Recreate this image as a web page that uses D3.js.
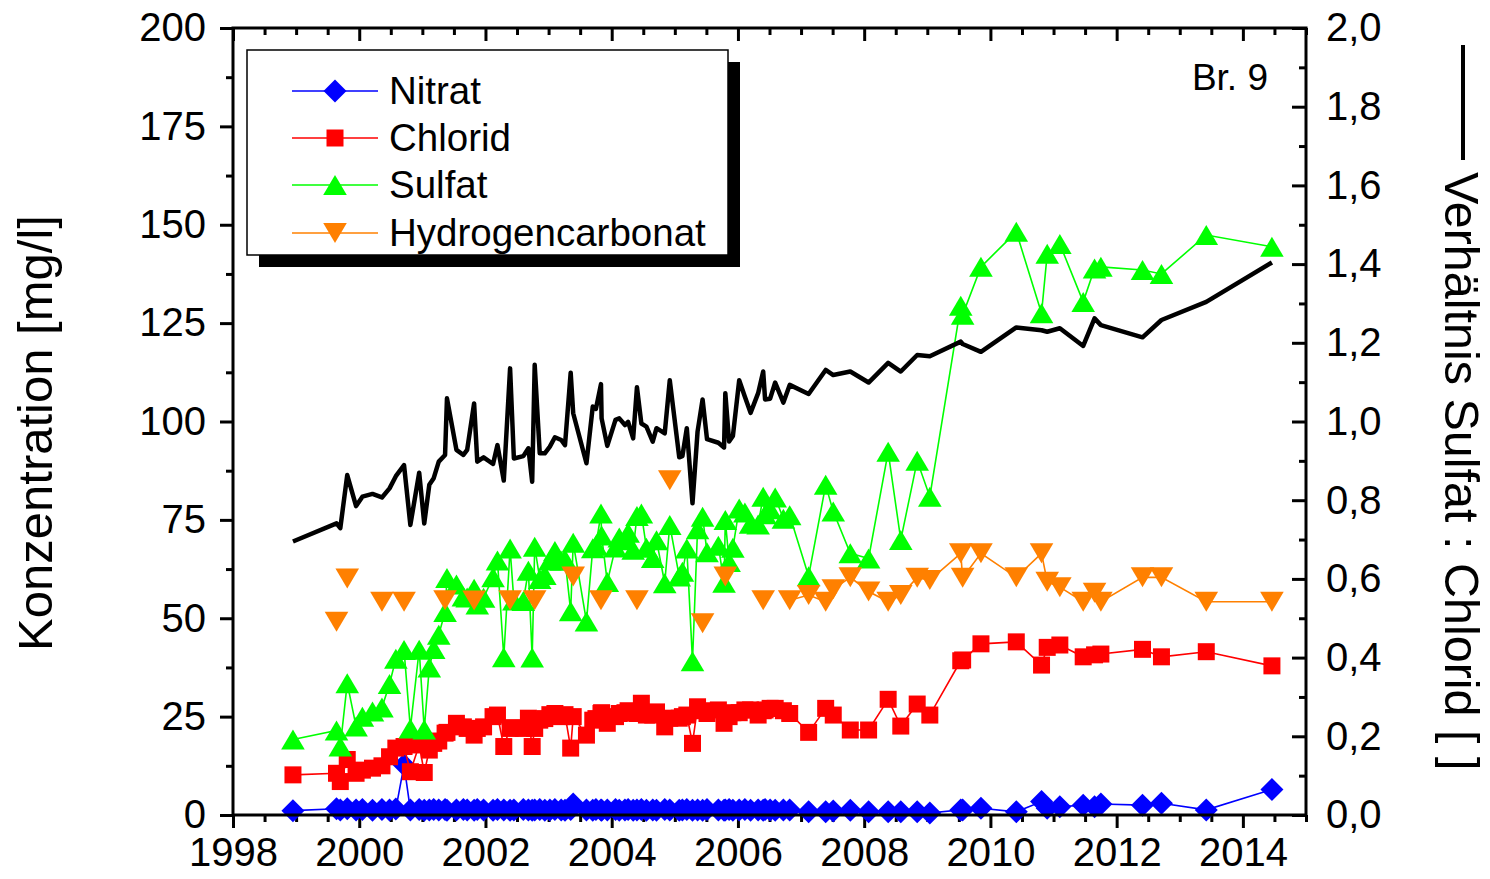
<!DOCTYPE html>
<html>
<head>
<meta charset="utf-8">
<script src="https://cdn.jsdelivr.net/npm/d3@7"></script>
<style>
  html, body { margin: 0; padding: 0; background: #fff; }
  svg { display: block; font-family: "Liberation Sans", Arial, sans-serif; }
</style>
</head>
<body>
<svg id="chart" width="1490" height="879"></svg>
<script>
// ---------------- DATA ----------------
const dates = [
  1998.95, 1999.64, 1999.70, 1999.81, 1999.95, 2000.05, 2000.21, 2000.36, 2000.48, 2000.58,
  2000.71, 2000.81, 2000.95, 2001.03, 2001.11, 2001.18, 2001.26, 2001.36, 2001.39, 2001.54,
  2001.65, 2001.71, 2001.82, 2001.87, 2001.97, 2002.12, 2002.19, 2002.29, 2002.39, 2002.45,
  2002.60, 2002.68, 2002.74, 2002.78, 2002.86, 2002.94, 2003.02, 2003.10, 2003.20, 2003.26,
  2003.35, 2003.39, 2003.60, 2003.70, 2003.75, 2003.83, 2003.84, 2003.93, 2004.06, 2004.12,
  2004.21, 2004.26, 2004.34, 2004.40, 2004.47, 2004.55, 2004.65, 2004.71, 2004.84, 2004.92,
  2005.07, 2005.12, 2005.19, 2005.28, 2005.36, 2005.44, 2005.51, 2005.69, 2005.78, 2005.80,
  2005.86, 2005.92, 2006.02, 2006.11, 2006.20, 2006.32, 2006.40, 2006.43, 2006.51, 2006.59,
  2006.72, 2006.82, 2007.12, 2007.39, 2007.51, 2007.78, 2008.07, 2008.38, 2008.58, 2008.84,
  2009.04, 2009.53, 2009.56, 2009.85, 2010.41, 2010.81, 2010.90, 2011.10, 2011.47, 2011.65,
  2011.75, 2012.41, 2012.71, 2013.42, 2014.46
];

const nitrat = [
  1.1, 1.6, 1.3, 1.6, 1.3, 1.4, 1.2, 1.4, 1.3, 1.5,
  12.7, 1.3, 1.4, 1.2, 1.3, 1.4, 1.3, 1.4, 1.2, 1.3,
  1.4, 1.3, 1.2, 1.4, 1.3, 1.2, 1.4, 1.3, 1.2, 1.3,
  1.4, 1.3, 1.2, 1.3, 1.4, 1.2, 1.3, 1.4, 1.3, 1.2,
  1.4, 2.8, 1.3, 1.2, 1.4, 1.3, 1.2, 1.3, 1.4, 1.2,
  1.3, 1.4, 1.2, 1.3, 1.4, 1.2, 1.3, 1.2, 1.4, 1.3,
  1.2, 1.3, 1.4, 1.2, 1.3, 1.2, 1.4, 1.3, 1.2, 1.3,
  1.4, 1.2, 1.3, 1.4, 1.2, 1.3, 1.2, 1.4, 1.3, 1.2,
  1.3, 1.3, 0.8, 0.8, 1.0, 1.2, 0.8, 0.8, 0.8, 0.8,
  0.5, 1.3, 1.3, 1.7, 0.8, 3.4, 1.7, 2.1, 2.5, 2.1,
  2.8, 2.5, 3.0, 1.3, 6.5
];

const chlorid = [
  10.2, 10.6, 8.5, 14.1, 10.6, 11.4, 11.9, 12.5, 14.8, 17.0,
  17.4, 11.0, 17.8, 10.8, 16.5, 18.2, 18.8, 20.8, 21.0, 23.3,
  22.4, 22.0, 20.3, 22.0, 22.4, 25.0, 25.4, 17.4, 22.0, 22.2,
  22.0, 24.6, 17.4, 22.0, 24.1, 24.5, 25.5, 25.8, 25.0, 25.5,
  17.0, 25.0, 20.3, 24.1, 24.5, 25.8, 26.0, 23.3, 25.0, 25.8,
  26.0, 26.5, 26.0, 25.8, 28.4, 25.4, 25.4, 26.2, 22.4, 24.6,
  24.6, 25.0, 25.4, 18.2, 27.5, 26.5, 25.8, 26.7, 23.3, 25.8,
  25.0, 26.0, 26.0, 26.7, 26.7, 25.4, 26.5, 26.7, 27.1, 27.1,
  26.5, 25.8, 21.0, 27.1, 25.4, 21.6, 21.6, 29.4, 22.6, 28.2,
  25.4, 39.2, 39.4, 43.5, 44.0, 38.1, 42.6, 43.2, 40.2, 40.7,
  40.9, 42.1, 40.2, 41.5, 37.9
];

const sulfat = [
  19.2, 21.5, 17.4, 33.5, 22.5, 25.0, 26.3, 27.3, 33.3, 39.7,
  41.9, 22.0, 42.0, 21.7, 37.5, 42.2, 45.8, 51.6, 60.2, 58.6,
  55.5, 55.3, 57.5, 53.5, 55.2, 60.4, 64.7, 40.1, 67.7, 54.5,
  54.4, 62.1, 40.0, 68.2, 60.0, 61.0, 64.7, 67.1, 64.6, 65.0,
  51.8, 69.2, 49.2, 67.8, 68.5, 76.6, 71.0, 59.2, 68.0, 70.5,
  69.8, 71.7, 67.4, 76.0, 76.6, 67.9, 65.3, 69.8, 58.9, 73.7,
  60.6, 61.8, 67.7, 39.1, 72.6, 75.8, 66.8, 68.4, 59.0, 75.0,
  64.3, 67.9, 77.9, 76.9, 74.0, 73.8, 80.9, 76.4, 77.7, 80.7,
  75.3, 76.2, 60.7, 83.9, 77.1, 66.5, 65.2, 92.3, 69.9, 90.0,
  80.9, 129.4, 127.1, 139.3, 148.2, 127.5, 142.6, 145.1, 130.4, 138.9,
  139.3, 138.5, 137.5, 147.4, 144.4
];

const hydrogencarbonat = [
  null, 49.1, null, 60.1, null, null, null, 54.2, null, null,
  54.2, null, null, null, null, null, null, 54.6, null, null,
  null, null, 54.5, null, null, null, null, null, 54.6, null,
  null, null, null, 54.6, null, null, null, null, null, null,
  null, 60.6, null, null, null, 54.6, null, null, null, null,
  null, null, null, 54.6, null, null, null, null, null, 85.1,
  null, null, null, null, null, 48.7, null, null, null, 60.6,
  null, null, null, null, null, null, 54.6, null, null, null,
  null, 54.6, 55.9, 54.2, 57.4, 60.4, 56.8, 54.2, 55.9, 60.3,
  59.7, 66.5, 60.3, 66.5, 60.4, 66.5, 59.3, 57.9, 54.2, 56.5,
  54.2, 60.4, 60.4, 54.2, 54.2
];

const ratio = [
  0.695, 0.741, 0.729, 0.864, 0.785, 0.809, 0.816, 0.807, 0.830, 0.861,
  0.889, 0.737, 0.870, 0.741, 0.839, 0.856, 0.898, 0.915, 1.059, 0.928,
  0.915, 0.928, 1.046, 0.898, 0.909, 0.892, 0.940, 0.850, 1.135, 0.906,
  0.912, 0.932, 0.847, 1.144, 0.919, 0.919, 0.936, 0.960, 0.953, 0.940,
  1.124, 1.021, 0.894, 1.038, 1.032, 1.095, 1.008, 0.938, 1.004, 1.008,
  0.991, 0.999, 0.957, 1.087, 0.995, 0.987, 0.949, 0.983, 0.970, 1.105,
  0.909, 0.912, 0.983, 0.792, 0.974, 1.056, 0.955, 0.946, 0.934, 1.072,
  0.949, 0.963, 1.105, 1.063, 1.022, 1.072, 1.127, 1.056, 1.058, 1.099,
  1.048, 1.093, 1.070, 1.131, 1.118, 1.127, 1.099, 1.149, 1.127, 1.169,
  1.166, 1.203, 1.197, 1.177, 1.239, 1.232, 1.228, 1.237, 1.192, 1.262,
  1.245, 1.214, 1.258, 1.304, 1.404
];

const seriesNames = ["Nitrat", "Chlorid", "Sulfat", "Hydrogencarbonat"];
const xTickLabels = [1998, 2000, 2002, 2004, 2006, 2008, 2010, 2012, 2014];
const leftTickLabels = [0, 25, 50, 75, 100, 125, 150, 175, 200];
const rightTickLabels = [0, 0.2, 0.4, 0.6, 0.8, 1.0, 1.2, 1.4, 1.6, 1.8, 2.0];
const leftTitle = "Konzentration [mg/l]";
const rightTitle = "Verhältnis Sulfat : Chlorid [ ]";
const wellLabel = "Br. 9";

// ---------------- LAYOUT ----------------
const svg = d3.select("#chart");
const L = 233, R = 1306, T = 28, B = 815;

const x = d3.scaleLinear().domain([1998, 2015]).range([L, R]);
const yL = d3.scaleLinear().domain([0, 200]).range([B, T]);
const yR = d3.scaleLinear().domain([0, 2]).range([B, T]);

const tickFont = 40;

function styleAxis(g) {
  g.select(".domain").remove();
  g.selectAll(".tick line").attr("stroke", "#000").attr("stroke-width", 3);
  g.selectAll(".tick text").attr("fill", "#000")
    .style("font-size", tickFont + "px")
    .style("font-family", "'Liberation Sans', Arial, sans-serif");
}

const minorX = d3.range(1998, 2015.001, 0.5).filter(v => xTickLabels.indexOf(v) < 0);
const minorL = d3.range(0, 200.001, 12.5).filter(v => leftTickLabels.indexOf(v) < 0);
const minorR = d3.range(0, 2.0001, 0.1).map(v => +v.toFixed(1)).filter(v => rightTickLabels.indexOf(v) < 0);

// bottom axis (outward)
svg.append("g").attr("transform", `translate(0,${B})`)
  .call(d3.axisBottom(x).tickValues(xTickLabels).tickSize(13).tickSizeOuter(0).tickPadding(10).tickFormat(d3.format("d")))
  .call(styleAxis);
svg.append("g").attr("transform", `translate(0,${B})`)
  .call(d3.axisBottom(x).tickValues(minorX).tickSize(7).tickSizeOuter(0).tickFormat(""))
  .call(styleAxis);
// top axis (inward)
svg.append("g").attr("transform", `translate(0,${T})`)
  .call(d3.axisTop(x).tickValues(xTickLabels).tickSize(-13).tickSizeOuter(0).tickFormat(""))
  .call(styleAxis);
svg.append("g").attr("transform", `translate(0,${T})`)
  .call(d3.axisTop(x).tickValues(minorX).tickSize(-7).tickSizeOuter(0).tickFormat(""))
  .call(styleAxis);
// left axis (outward)
svg.append("g").attr("transform", `translate(${L},0)`)
  .call(d3.axisLeft(yL).tickValues(leftTickLabels).tickSize(13).tickSizeOuter(0).tickPadding(14).tickFormat(d3.format("d")))
  .call(styleAxis);
svg.append("g").attr("transform", `translate(${L},0)`)
  .call(d3.axisLeft(yL).tickValues(minorL).tickSize(7).tickSizeOuter(0).tickFormat(""))
  .call(styleAxis);
// right axis (inward ticks, labels outside)
svg.append("g").attr("transform", `translate(${R},0)`)
  .call(d3.axisRight(yR).tickValues(rightTickLabels).tickSize(-14).tickSizeOuter(0).tickPadding(20)
    .tickFormat(d => d3.format(".1f")(d).replace(".", ",")))
  .call(styleAxis);
svg.append("g").attr("transform", `translate(${R},0)`)
  .call(d3.axisRight(yR).tickValues(minorR).tickSize(-7).tickSizeOuter(0).tickFormat(""))
  .call(styleAxis);

// ---------------- SERIES ----------------
const rows = dates.map((d, i) => ({
  date: d, nitrat: nitrat[i], chlorid: chlorid[i], sulfat: sulfat[i],
  hco3: hydrogencarbonat[i], ratio: ratio[i]
}));

const symbolPaths = {
  diamond: "M0,-11.5L11.5,0L0,11.5L-11.5,0Z",
  square: "M-8.5,-8.5H8.5V8.5H-8.5Z",
  up: "M0,-10L11.8,10L-11.8,10Z",
  down: "M0,10L11.8,-10L-11.8,-10Z"
};

const seriesDefs = [
  { key: "nitrat", color: "#0000FF", sym: "diamond" },
  { key: "chlorid", color: "#FF0000", sym: "square" },
  { key: "sulfat", color: "#00FF00", sym: "up" },
  { key: "hco3", color: "#FF8000", sym: "down" }
];

const plot = svg.append("g");
seriesDefs.forEach(s => {
  const line = d3.line()
    .defined(r => r[s.key] !== null && r[s.key] !== undefined)
    .x(r => x(r.date)).y(r => yL(r[s.key]));
  const g = plot.append("g");
  g.append("path").datum(rows).attr("d", line)
    .attr("fill", "none").attr("stroke", s.color).attr("stroke-width", 1.6);
  g.selectAll("path.pt").data(rows.filter(r => r[s.key] !== null))
    .join("path").attr("class", "pt")
    .attr("transform", r => `translate(${x(r.date)},${yL(r[s.key])})`)
    .attr("d", symbolPaths[s.sym]).attr("fill", s.color);
});

// ratio line (right axis)
plot.append("path").datum(rows)
  .attr("d", d3.line().x(r => x(r.date)).y(r => yR(r.ratio)))
  .attr("fill", "none").attr("stroke", "#000").attr("stroke-width", 4.5)
  .attr("stroke-linejoin", "round");

// frame
svg.append("rect").attr("x", L).attr("y", T).attr("width", R - L).attr("height", B - T)
  .attr("fill", "none").attr("stroke", "#000").attr("stroke-width", 3);

// ---------------- LEGEND ----------------
const lg = svg.append("g");
lg.append("rect").attr("x", 259).attr("y", 62).attr("width", 481).attr("height", 205).attr("fill", "#000");
lg.append("rect").attr("x", 247).attr("y", 50).attr("width", 481).attr("height", 205)
  .attr("fill", "#fff").attr("stroke", "#000").attr("stroke-width", 1.5);
const legendY = [91, 138, 185, 233];
seriesDefs.forEach((s, i) => {
  const yy = legendY[i];
  lg.append("line").attr("x1", 292).attr("x2", 378).attr("y1", yy).attr("y2", yy)
    .attr("stroke", s.color).attr("stroke-width", 1.6);
  lg.append("path").attr("transform", `translate(335,${yy})`).attr("d", symbolPaths[s.sym]).attr("fill", s.color);
  lg.append("text").attr("x", 389).attr("y", yy).attr("dy", "0.35em")
    .style("font-size", "38.5px").attr("fill", "#000").text(seriesNames[i]);
});

// well label
svg.append("text").attr("x", 1268).attr("y", 90).attr("text-anchor", "end")
  .style("font-size", "37px").attr("fill", "#000").text(wellLabel);

// axis titles
svg.append("text").attr("transform", "translate(52,433) rotate(-90)")
  .attr("text-anchor", "middle").style("font-size", "49px").attr("fill", "#000").text(leftTitle);

svg.append("line").attr("x1", 1463).attr("x2", 1463).attr("y1", 45).attr("y2", 160)
  .attr("stroke", "#000").attr("stroke-width", 4);
svg.append("text").attr("transform", "translate(1445,172) rotate(90)")
  .attr("text-anchor", "start").style("font-size", "48.5px").attr("fill", "#000").text(rightTitle);
</script>
</body>
</html>
